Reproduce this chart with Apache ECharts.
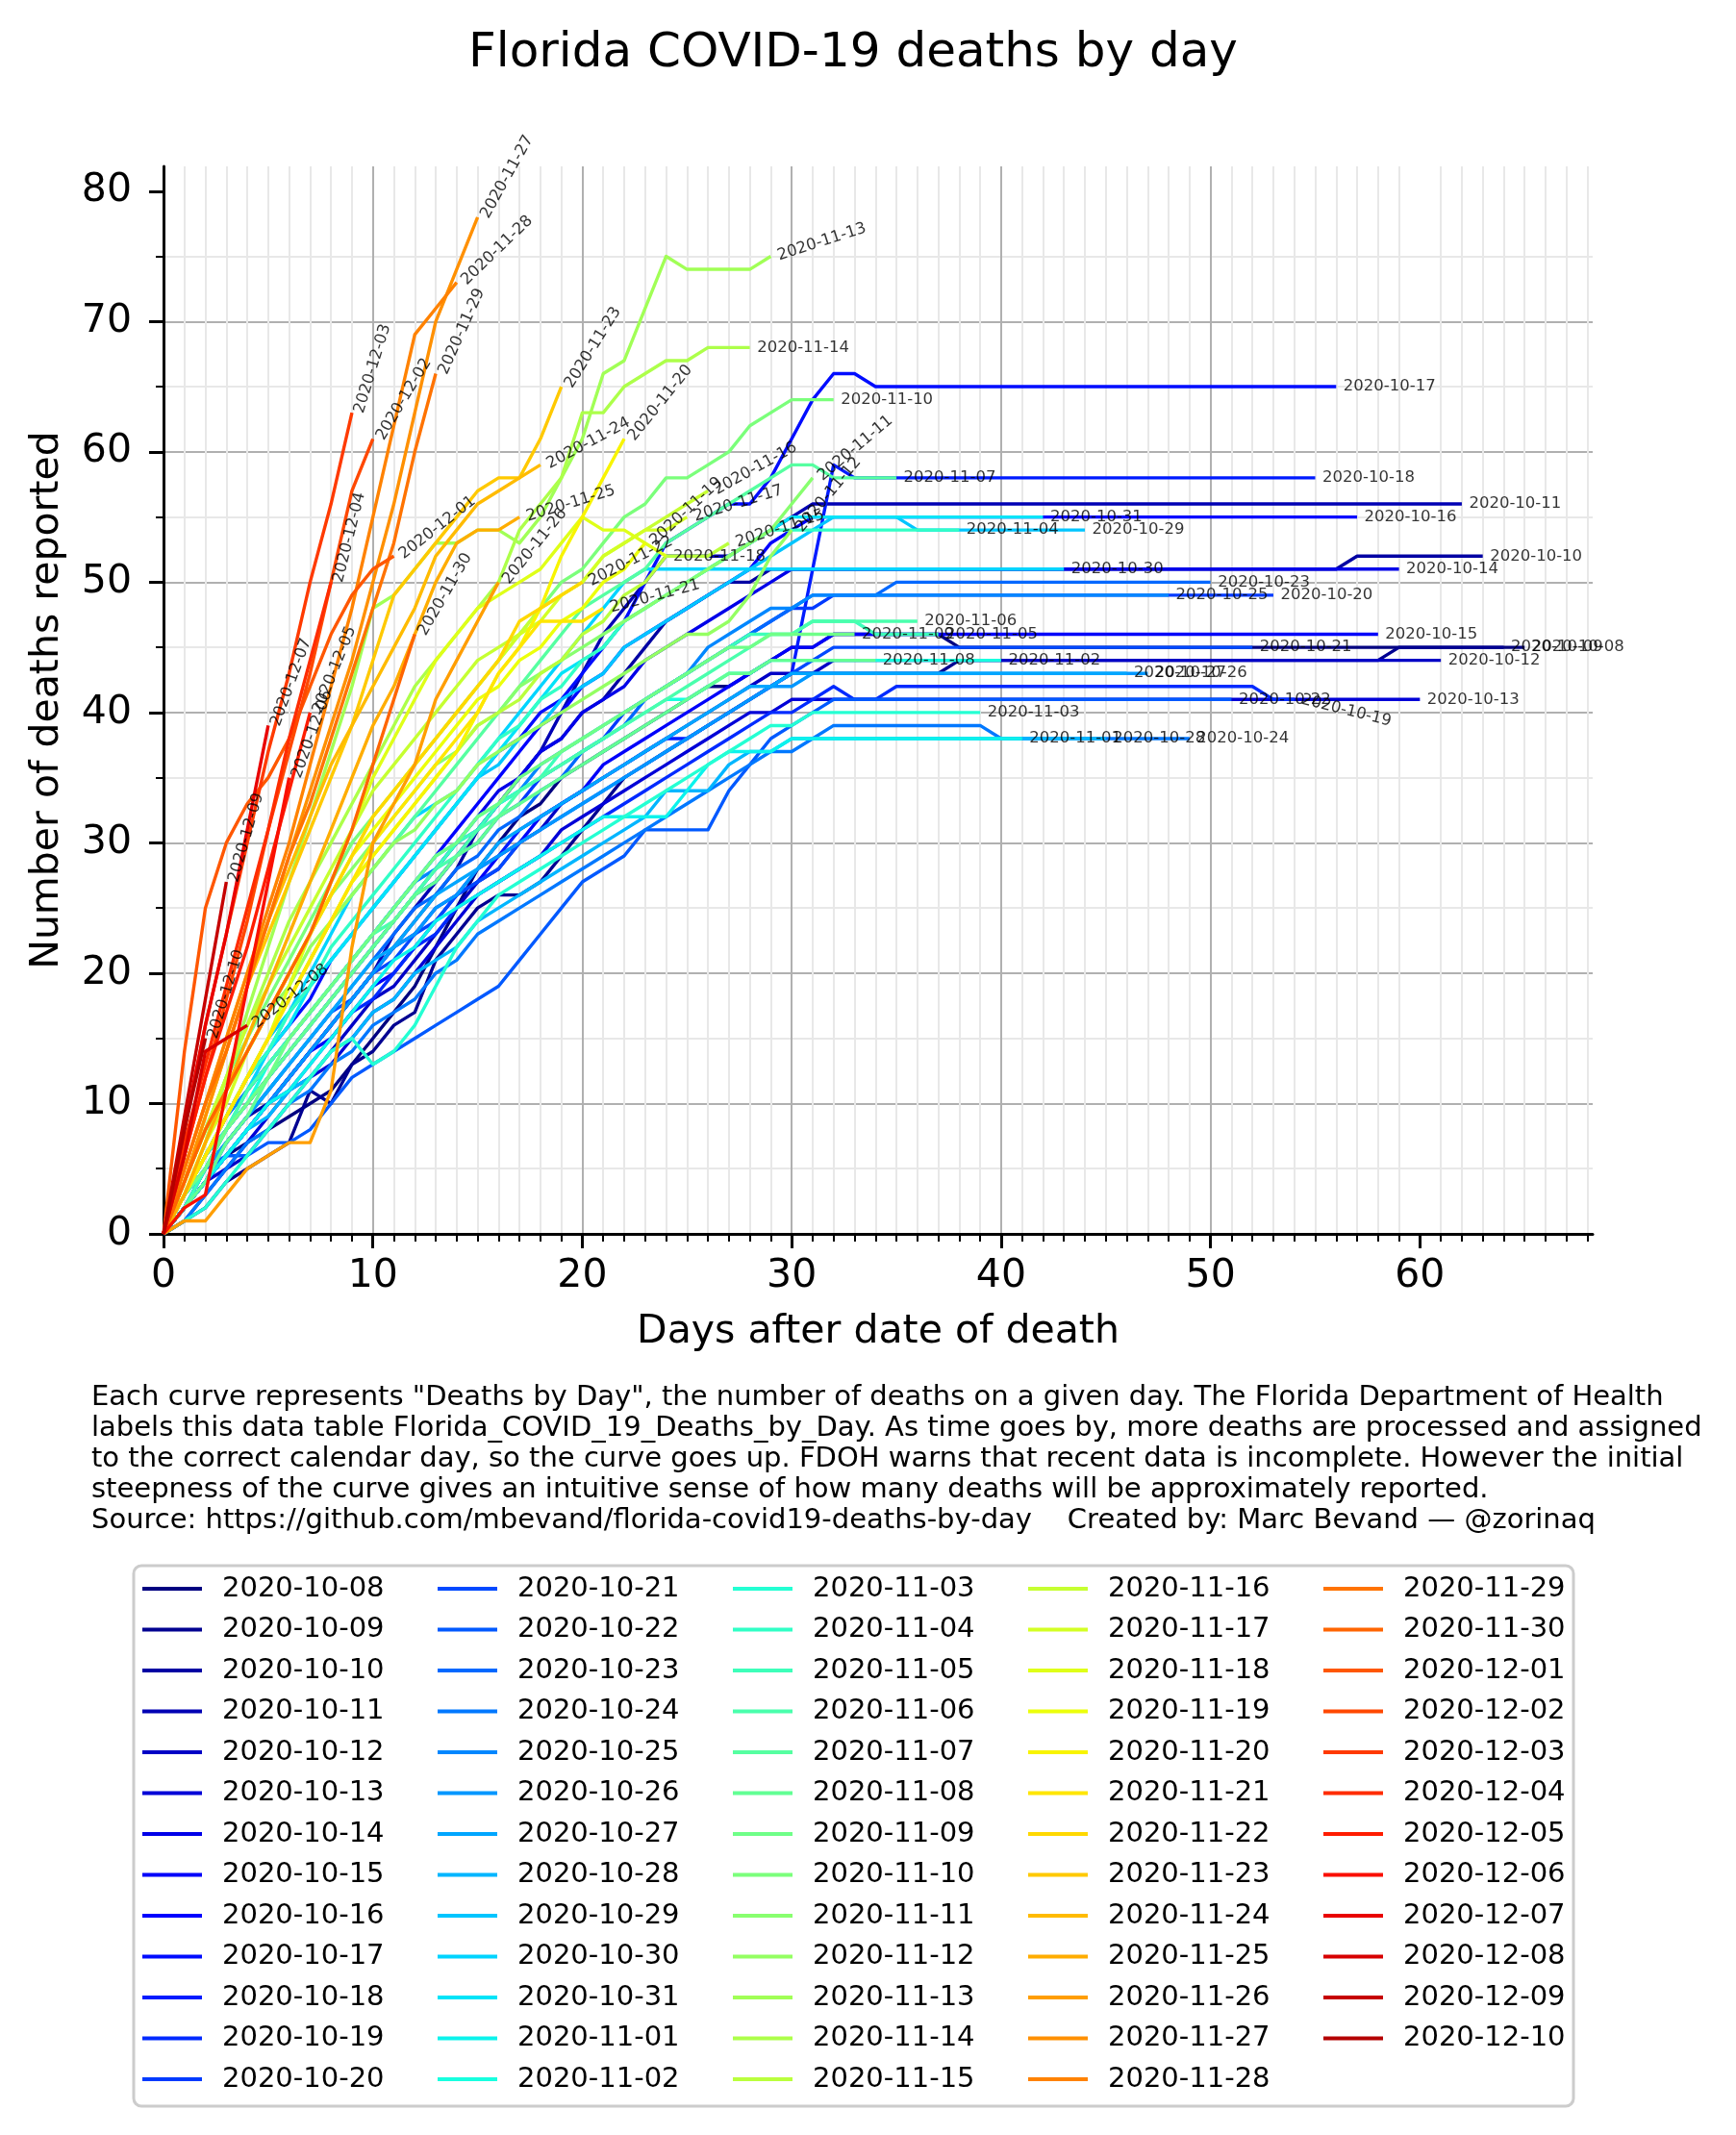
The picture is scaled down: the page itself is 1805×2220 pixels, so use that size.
<!DOCTYPE html>
<html>
<head>
<meta charset="utf-8">
<title>Florida COVID-19 deaths by day</title>
<script src="https://cdn.jsdelivr.net/npm/echarts@6.0.0/dist/echarts.min.js"></script>
<style>
  html, body { margin: 0; padding: 0; background: #fff; }
  #chart { width: 1805px; height: 2220px; }
</style>
</head>
<body>
<div id="chart"></div>
<script>
// date of death of each curve
var dates = [
  '2020-10-08','2020-10-09','2020-10-10','2020-10-11','2020-10-12','2020-10-13','2020-10-14','2020-10-15',
  '2020-10-16','2020-10-17','2020-10-18','2020-10-19','2020-10-20','2020-10-21','2020-10-22','2020-10-23',
  '2020-10-24','2020-10-25','2020-10-26','2020-10-27','2020-10-28','2020-10-29','2020-10-30','2020-10-31',
  '2020-11-01','2020-11-02','2020-11-03','2020-11-04','2020-11-05','2020-11-06','2020-11-07','2020-11-08',
  '2020-11-09','2020-11-10','2020-11-11','2020-11-12','2020-11-13','2020-11-14','2020-11-15','2020-11-16',
  '2020-11-17','2020-11-18','2020-11-19','2020-11-20','2020-11-21','2020-11-22','2020-11-23','2020-11-24',
  '2020-11-25','2020-11-26','2020-11-27','2020-11-28','2020-11-29','2020-11-30','2020-12-01','2020-12-02',
  '2020-12-03','2020-12-04','2020-12-05','2020-12-06','2020-12-07','2020-12-08','2020-12-09','2020-12-10'
];

// deaths reported for each date, index = days after the date of death
var d1008 = [0,2,4,6,7,8,9,10,11,13, 15,17,19,22,25,28,30,32,33,35, 36,37,38,39,40,41,42,42,43,44, 45,45,46,46,46,46,46,46,45,45, 45,45,45,45,45,45,45,45,45,45, 45,45,45,45,45,45,45,45,45,45, 45,45,45,45,45,45];
var d1009 = [0,1,2,4,5,6,7,11,10,13, 14,16,17,21,23,25,26,26,27,29, 31,33,35,36,37,38,39,40,41,42, 43,43,43,43,43,43,43,43,44,44, 44,44,44,44,44,44,44,44,44,44, 44,44,44,44,44,44,44,44,44,45, 45,45,45,45,45];
var d1010 = [0,2,5,7,9,10,12,14,16,18, 20,22,24,26,28,31,33,35,37,38, 40,41,43,45,47,48,49,50,50,51, 51,51,51,51,51,51,51,51,51,51, 51,51,51,51,51,51,51,51,51,51, 51,51,51,51,51,51,51,52,52,52, 52,52,52,52];
var d1011 = [0,2,4,6,8,10,12,14,16,18, 20,23,25,27,29,31,33,35,37,40, 43,46,48,50,52,52,52,52,53,54, 55,56,56,56,56,56,56,56,56,56, 56,56,56,56,56,56,56,56,56,56, 56,56,56,56,56,56,56,56,56,56, 56,56,56];
var d1012 = [0,1,3,5,6,8,10,12,14,16, 18,19,21,23,25,27,28,30,31,33, 34,35,36,37,38,39,40,41,42,43, 43,43,44,44,44,44,44,44,44,44, 44,44,44,44,44,44,44,44,44,44, 44,44,44,44,44,44,44,44,44,44, 44,44];
var d1013 = [0,2,4,5,7,9,11,12,13,15, 17,18,20,22,24,26,27,28,29,31, 32,33,34,35,36,37,38,39,40,40, 41,41,41,41,41,41,41,41,41,41, 41,41,41,41,41,41,41,41,41,41, 41,41,41,41,41,41,41,41,41,41, 41];
var d1014 = [0,3,6,8,10,12,14,16,18,20, 22,24,26,28,30,32,34,35,37,38, 40,41,42,44,45,46,47,48,49,50, 51,51,51,51,51,51,51,51,51,51, 51,51,51,51,51,51,51,51,51,51, 51,51,51,51,51,51,51,51,51,51];
var d1015 = [0,2,4,6,8,10,12,14,15,17, 19,20,22,24,26,27,29,30,32,33, 34,36,37,38,39,40,41,42,43,44, 45,45,46,46,46,46,46,46,46,46, 46,46,46,46,46,46,46,46,46,46, 46,46,46,46,46,46,46,46,46];
var d1016 = [0,3,6,9,11,13,15,17,19,21, 23,25,27,29,31,33,35,37,39,40, 42,43,45,46,47,48,49,50,51,53, 54,55,55,55,55,55,55,55,55,55, 55,55,55,55,55,55,55,55,55,55, 55,55,55,55,55,55,55,55];
var d1017 = [0,3,6,9,12,14,16,18,21,23, 25,27,29,31,33,35,37,38,40,41, 43,45,47,50,53,54,55,56,56,58, 61,64,66,66,65,65,65,65,65,65, 65,65,65,65,65,65,65,65,65,65, 65,65,65,65,65,65,65];
var d1018 = [0,2,4,6,8,10,12,14,16,18, 20,22,23,25,26,28,29,31,32,33, 34,35,36,37,38,38,39,40,41,42, 43,51,59,58,58,58,58,58,58,58, 58,58,58,58,58,58,58,58,58,58, 58,58,58,58,58,58];
var d1019 = [0,2,4,6,8,10,11,13,15,17, 18,20,22,23,25,26,27,28,29,30, 31,32,33,34,35,36,37,38,39,40, 40,41,42,41,41,42,42,42,42,42, 42,42,42,42,42,42,42,42,42,42, 42,42,42,41,41];
var d1020 = [0,3,5,8,10,12,14,16,18,20, 22,24,26,27,29,30,32,33,35,36, 37,38,40,41,42,43,44,45,46,47, 48,48,49,49,49,49,49,49,49,49, 49,49,49,49,49,49,49,49,49,49, 49,49,49,49];
var d1021 = [0,2,4,7,9,11,13,15,17,18, 20,21,23,24,26,27,28,30,31,32, 33,34,35,36,37,38,39,40,41,42, 43,44,45,45,45,45,45,45,45,45, 45,45,45,45,45,45,45,45,45,45, 45,45,45];
var d1022 = [0,3,5,6,6,7,7,8,10,12, 13,14,15,16,17,18,19,21,23,25, 27,28,29,31,31,31,31,34,36,38, 39,40,41,41,41,41,41,41,41,41, 41,41,41,41,41,41,41,41,41,41, 41,41];
var d1023 = [0,2,5,7,9,11,13,15,17,19, 21,23,25,26,28,29,31,32,34,35, 37,38,39,41,42,43,44,45,46,47, 48,49,49,49,49,50,50,50,50,50, 50,50,50,50,50,50,50,50,50,50, 50];
var d1024 = [0,1,3,5,7,8,10,11,13,14, 16,17,18,20,21,23,24,25,26,27, 28,29,30,31,32,33,34,35,36,37, 37,38,39,39,39,39,39,39,39,39, 38,38,38,38,38,38,38,38,38,38];
var d1025 = [0,3,6,9,11,13,15,17,19,21, 23,25,27,28,30,31,33,34,36,37, 38,39,40,41,42,43,45,46,47,48, 48,49,49,49,49,49,49,49,49,49, 49,49,49,49,49,49,49,49,49];
var d1026 = [0,2,4,6,8,10,12,14,16,18, 20,22,23,25,26,28,29,30,31,32, 33,34,35,36,37,38,39,40,41,42, 42,43,43,43,43,43,43,43,43,43, 43,43,43,43,43,43,43,43];
var d1027 = [0,3,5,7,9,11,13,15,17,19, 21,22,24,26,27,28,30,31,32,33, 34,35,36,37,38,39,40,41,42,42, 43,43,43,43,43,43,43,43,43,43, 43,43,43,43,43,43,43];
var d1028 = [0,2,4,6,8,9,11,12,14,15, 17,18,20,21,22,24,25,26,27,28, 29,30,31,32,34,34,34,36,37,37, 38,38,38,38,38,38,38,38,38,38, 38,38,38,38,38,38];
var d1029 = [0,3,6,9,12,15,17,19,21,23, 25,27,29,31,33,35,36,38,39,41, 42,43,45,46,47,48,49,50,51,52, 53,54,55,55,55,55,54,54,54,54, 54,54,54,54,54];
var d1030 = [0,2,5,8,11,14,17,20,23,26, 28,30,32,33,34,36,38,40,42,44, 46,48,50,51,51,51,51,51,51,51, 51,51,51,51,51,51,51,51,51,51, 51,51,51,51];
var d1031 = [0,3,6,9,12,14,16,19,21,23, 25,27,29,31,33,35,37,39,41,43, 44,45,47,48,49,50,51,52,53,54, 55,55,55,55,55,55,55,55,55,55, 55,55,55];
var d1101 = [0,2,4,6,8,10,11,13,15,17, 19,21,22,24,25,26,27,28,29,30, 31,32,32,32,32,34,36,37,37,37, 38,38,38,38,38,38,38,38,38,38, 38,38];
var d1102 = [0,3,5,8,10,13,15,17,19,21, 23,25,27,29,30,32,33,34,35,36, 37,38,39,40,41,41,42,43,43,44, 44,44,44,44,44,44,44,44,44,44, 44];
var d1103 = [0,1,2,4,6,8,10,12,14,15, 13,14,16,19,22,24,26,27,28,29, 30,31,32,33,34,35,36,37,38,39, 39,40,40,40,40,40,40,40,40,40];
var d1104 = [0,3,6,9,12,14,17,19,22,24, 26,28,30,32,34,36,38,39,41,42, 44,45,47,48,49,50,51,52,53,54, 54,54,54,54,54,54,54,54,54];
var d1105 = [0,2,5,8,10,12,14,16,18,20, 22,24,26,28,30,31,33,34,35,37, 38,39,40,41,42,43,44,45,46,46, 46,47,47,47,46,46,46,46];
var d1106 = [0,3,6,8,11,13,15,17,19,21, 23,24,26,28,29,31,32,34,35,36, 37,38,39,40,41,42,43,44,45,46, 46,47,47,47,47,47,47];
var d1107 = [0,3,6,9,12,15,18,21,24,26, 28,30,32,34,36,38,40,42,44,46, 48,49,50,51,53,54,55,56,57,58, 59,59,58,58,58,58];
var d1108 = [0,2,4,7,9,12,14,16,18,20, 22,24,26,27,29,30,32,33,34,35, 36,37,38,39,40,41,42,43,43,44, 44,44,44,44,44];
var d1109 = [0,3,5,8,10,12,15,17,19,21, 23,25,27,29,30,32,33,35,36,37, 38,39,40,41,42,43,44,45,45,46, 46,46,46,46];
var d1110 = [0,4,8,12,15,18,21,24,27,30, 32,34,36,38,40,42,44,46,48,50, 51,53,55,56,58,58,59,60,62,63, 64,64,64];
var d1111 = [0,4,8,11,14,17,20,23,26,28, 30,32,34,36,37,39,40,42,43,44, 45,46,47,48,49,50,51,52,53,54, 56,58];
var d1112 = [0,4,8,11,14,17,19,22,24,26, 28,30,31,33,34,36,37,38,39,40, 41,42,43,44,45,46,46,47,49,52, 54];
var d1113 = [0,3,7,12,17,22,27,32,37,42, 48,49,51,53,53,54,54,53,55,58, 61,66,67,71,75,74,74,74,74,75];
var d1114 = [0,4,8,12,16,20,24,27,30,33, 36,39,42,44,46,48,50,54,56,58, 63,63,65,66,67,67,68,68,68];
var d1115 = [0,3,6,9,12,15,18,21,24,27, 29,31,33,35,37,39,40,41,43,44, 46,47,49,50,52,52,52,53];
var d1116 = [0,4,8,12,16,19,22,25,28,31, 34,36,38,40,42,44,45,46,48,49, 50,52,53,54,55,56,57];
var d1117 = [0,3,7,10,14,17,20,23,26,29, 32,34,36,38,40,42,44,46,47,49, 50,52,53,54,54,55];
var d1118 = [0,3,6,9,12,15,19,23,27,31, 35,38,41,44,46,48,49,50,51,53, 55,54,54,53,52];
var d1119 = [0,3,7,11,14,17,20,23,26,29, 31,33,35,37,39,41,42,44,45,47, 48,50,51,53];
var d1120 = [0,3,6,9,12,15,18,21,24,27, 29,31,33,35,37,40,43,45,48,52, 55,58,61];
var d1121 = [0,3,6,9,12,15,18,21,24,27, 30,32,34,36,38,40,43,45,47,47, 47,48];
var d1122 = [0,4,8,11,14,17,20,23,26,29, 32,34,36,38,40,42,44,47,48,49, 50];
var d1123 = [0,4,9,14,19,23,27,31,35,39, 44,49,51,53,55,57,58,58,61,65];
var d1124 = [0,5,10,15,20,24,28,32,36,39, 42,45,48,52,54,56,57,58,59];
var d1125 = [0,3,7,11,15,19,23,27,31,35, 39,42,46,50,53,54,54,55];
var d1126 = [0,1,1,3,5,6,7,7,11,22, 30,33,36,41,44,47,50];
var d1127 = [0,4,9,14,19,24,29,34,39,44, 50,56,63,70,74,78];
var d1128 = [0,5,10,15,20,25,30,36,42,48, 55,62,69,71,73];
var d1129 = [0,5,10,14,19,24,29,33,38,43, 48,53,60,66];
var d1130 = [0,4,8,11,14,17,20,23,27,31, 36,41,46];
var d1201 = [0,14,25,30,33,35,38,42,46,49, 51,52];
var d1202 = [0,6,12,18,24,31,37,43,50,57, 61];
var d1203 = [0,8,16,23,30,37,43,50,56,63];
var d1204 = [0,7,13,19,25,31,38,44,50];
var d1205 = [0,6,12,17,22,28,34,40];
var d1206 = [0,2,3,11,19,27,35];
var d1207 = [0,8,16,23,31,39];
var d1208 = [0,6,14,15,16];
var d1209 = [0,9,18,27];
var d1210 = [0,8,15];

var curves = [
  d1008,d1009,d1010,d1011,d1012,d1013,d1014,d1015,d1016,d1017,d1018,d1019,d1020,d1021,d1022,d1023,
  d1024,d1025,d1026,d1027,d1028,d1029,d1030,d1031,d1101,d1102,d1103,d1104,d1105,d1106,d1107,d1108,
  d1109,d1110,d1111,d1112,d1113,d1114,d1115,d1116,d1117,d1118,d1119,d1120,d1121,d1122,d1123,d1124,
  d1125,d1126,d1127,d1128,d1129,d1130,d1201,d1202,d1203,d1204,d1205,d1206,d1207,d1208,d1209,d1210
];

var xTicks = [0, 10, 20, 30, 40, 50, 60];
var yTicks = [0, 10, 20, 30, 40, 50, 60, 70, 80];

// tilt of the date label at the end of each curve (degrees)
var labelAngle = [
  0,0,0,0,0,0,0,0,0,0,0,-14,
  0,0,0,0,0,0,0,0,0,0,0,0,0,0,0,0,0,0,0,0,0,0,
  40,50,18,0,18,29,17,0,43,51,15,27,58,28,17,51,61,44,66,60,38,59,73,76,68,70,70,39,74,73
];

// matplotlib "jet"
function jet(t) {
  function seg(p) {
    for (var k = 1; k < p.length; k++) {
      if (t <= p[k][0]) {
        var a = p[k - 1], b = p[k];
        return a[1] + (b[1] - a[1]) * (t - a[0]) / (b[0] - a[0]);
      }
    }
    return p[p.length - 1][1];
  }
  var r = seg([[0, 0], [0.35, 0], [0.66, 1], [0.89, 1], [1, 0.5]]);
  var g = seg([[0, 0], [0.125, 0], [0.375, 1], [0.64, 1], [0.91, 0], [1, 0]]);
  var b = seg([[0, 0.5], [0.11, 1], [0.34, 1], [0.65, 0], [1, 0]]);
  return 'rgb(' + Math.round(r * 255) + ',' + Math.round(g * 255) + ',' + Math.round(b * 255) + ')';
}
var colors = dates.map(function (d, i) { return jet(i / 66); });

var series = curves.map(function (c, i) {
  return {
    name: dates[i],
    type: 'line',
    data: c.map(function (v, x) { return [x, v]; }),
    showSymbol: false,
    symbol: 'none',
    silent: true,
    lineStyle: { width: 3.4, color: colors[i], join: 'round' },
    itemStyle: { color: colors[i] },
    emphasis: { disabled: true }
  };
});

// date written at the end of each curve
series.push({
  name: 'end labels',
  type: 'scatter',
  silent: true,
  z: 3,
  symbol: 'circle',
  symbolSize: 1,
  itemStyle: { color: 'rgba(0,0,0,0)' },
  label: { show: true, position: 'right', distance: 7, color: '#000', fontSize: 16.5 },
  data: curves.map(function (c, i) {
    var n = c.length - 1;
    return { value: [n, c[n]], label: { rotate: labelAngle[i], formatter: dates[i] } };
  })
});

var legendLeft = [148, 455, 762, 1069, 1376];
var legends = legendLeft.map(function (left, k) {
  return {
    orient: 'vertical',
    left: left,
    top: 1636,
    padding: 0,
    itemGap: 10.5,
    itemWidth: 62,
    itemHeight: 4,
    icon: 'rect',
    selectedMode: false,
    itemStyle: { borderWidth: 0 },
    data: dates.slice(k * 13, k * 13 + 13),
    textStyle: { fontSize: 29, lineHeight: 32, color: '#000', padding: [0, 0, 0, 16] }
  };
});

var note = 'Each curve represents "Deaths by Day", the number of deaths on a given day. The Florida Department of Health\n' +
  'labels this data table Florida_COVID_19_Deaths_by_Day. As time goes by, more deaths are processed and assigned\n' +
  'to the correct calendar day, so the curve goes up. FDOH warns that recent data is incomplete. However the initial\n' +
  'steepness of the curve gives an intuitive sense of how many deaths will be approximately reported.\n' +
  'Source: https://github.com/mbevand/florida-covid19-deaths-by-day    Created by: Marc Bevand \u2014 @zorinaq';

var chart = echarts.init(document.getElementById('chart'));
chart.setOption({
  animation: false,
  backgroundColor: '#fff',
  textStyle: { fontFamily: 'DejaVu Sans' },
  grid: { left: 170, top: 173, width: 1486, height: 1110 },
  xAxis: {
    type: 'value', min: 0, max: 68.25, interval: 10,
    name: 'Days after date of death', nameLocation: 'middle', nameGap: 82,
    nameTextStyle: { fontSize: 41, color: '#000' },
    axisLine: { onZero: false, lineStyle: { color: '#000', width: 3 } },
    axisTick: { length: 15, customValues: xTicks, lineStyle: { color: '#000', width: 3 } },
    minorTick: { show: true, splitNumber: 10, length: 8, lineStyle: { color: '#000', width: 2 } },
    axisLabel: { fontSize: 41, color: '#000', margin: 24, customValues: xTicks },
    splitLine: { show: true, showMaxLine: false, lineStyle: { color: '#b0b0b0', width: 2 } },
    minorSplitLine: { show: true, lineStyle: { color: '#e8e8e8', width: 2 } }
  },
  yAxis: {
    type: 'value', min: 0, max: 81.9, interval: 10,
    name: 'Number of deaths reported', nameLocation: 'middle', nameGap: 100,
    nameTextStyle: { fontSize: 41, color: '#000' },
    axisLine: { onZero: false, lineStyle: { color: '#000', width: 3 } },
    axisTick: { length: 15, customValues: yTicks, lineStyle: { color: '#000', width: 3 } },
    minorTick: { show: true, splitNumber: 2, length: 8, lineStyle: { color: '#000', width: 2 } },
    axisLabel: { fontSize: 41, color: '#000', margin: 33, customValues: yTicks },
    splitLine: { show: true, showMaxLine: false, lineStyle: { color: '#b0b0b0', width: 2 } },
    minorSplitLine: { show: true, lineStyle: { color: '#e8e8e8', width: 2 } }
  },
  legend: legends,
  graphic: [
    { type: 'text', x: 887, y: 56, style: { text: 'Florida COVID-19 deaths by day', fontSize: 50, fontFamily: 'DejaVu Sans', fill: '#000', align: 'center', verticalAlign: 'middle' } },
    { type: 'text', x: 95, y: 1437, style: { text: note, fontSize: 29, fontFamily: 'DejaVu Sans', lineHeight: 32, fill: '#000', align: 'left', verticalAlign: 'top' } },
    { type: 'rect', shape: { x: 139, y: 1628, width: 1497, height: 562, r: 8 }, style: { fill: 'none', stroke: '#cccccc', lineWidth: 3 } }
  ],
  series: series
});
</script>
</body>
</html>
